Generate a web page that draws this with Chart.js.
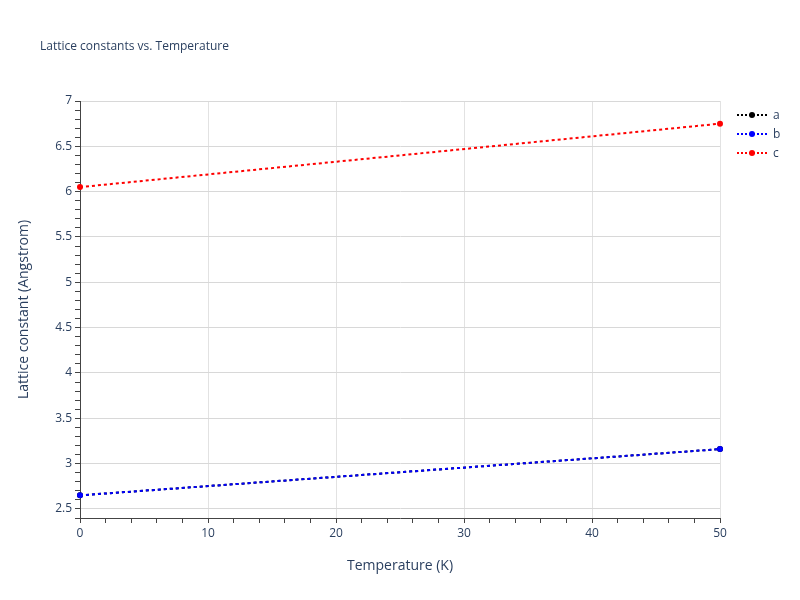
<!DOCTYPE html>
<html>
<head>
<meta charset="utf-8">
<script src="https://cdn.jsdelivr.net/npm/chart.js@4"></script>
<style>
  body { margin: 0; background: #fff; font-family: "Open Sans", sans-serif; }
  #wrap { position: relative; width: 800px; height: 600px; }
  #title { position: absolute; left: 40px; top: 37px; font-size: 12px; color: #2a3f5f; }
  #legend { position: absolute; left: 737px; top: 105px; font-size: 12px; color: #2a3f5f; }
  .item { height: 19px; display: flex; align-items: center; }
  .sw { width: 30px; height: 10px; margin-right: 6px; position: relative; }
  .sw .ln { position: absolute; left: 0; right: 0; top: 4px; border-top: 2px dotted; }
  .sw .dt { position: absolute; left: 12px; top: 2px; width: 6px; height: 6px; border-radius: 50%; }
</style>
</head>
<body>
<div id="wrap">
  <canvas id="chart" width="800" height="600"></canvas>
  <div id="title">Lattice constants vs. Temperature</div>
  <div id="legend"></div>
</div>
<script>
// Data
const temperatures = [0, 50];
const seriesNames = ['a', 'b', 'c'];
const seriesColors = ['#000000', '#0000ff', '#ff0000'];
const aValues = [2.65, 3.16];
const bValues = [2.65, 3.16];
const cValues = [6.05, 6.75];
const seriesValues = [aValues, bValues, cValues];

const legend = document.getElementById('legend');
seriesNames.forEach((name, i) => {
    legend.innerHTML += `<div class="item"><div class="sw"><div class="ln" style="border-color:${seriesColors[i]}"></div><div class="dt" style="background:${seriesColors[i]}"></div></div>${name}</div>`;
});

// later series drawn on top, like plotly
const datasets = seriesNames.map((name, i) => ({
    label: name,
    data: temperatures.map((t, j) => ({ x: t, y: seriesValues[i][j] })),
    borderColor: seriesColors[i],
    backgroundColor: seriesColors[i],
    borderWidth: 2,
    borderDash: [3, 3],
    pointRadius: 3,
    pointHoverRadius: 3,
    pointBorderWidth: 0,
    order: seriesNames.length - i,
    clip: false
}));

new Chart(document.getElementById('chart'), {
    type: 'line',
    data: { datasets: datasets },
    options: {
        responsive: false,
        animation: false,
        layout: { padding: { top: 101, right: 80, left: 12, bottom: 26 } },
        plugins: { legend: { display: false }, tooltip: { enabled: false } },
        scales: {
            x: {
                type: 'linear',
                min: 0, max: 50,
                afterFit: s => { s.height = 56; },
                ticks: {
                    stepSize: 2, autoSkip: false, maxRotation: 0,
                    color: '#2a3f5f', font: { size: 12, family: 'Open Sans' },
                    callback: v => (Math.round(v) % 10 === 0 ? v : '')
                },
                grid: {
                    color: c => (c.tick && Math.round(c.tick.value) % 10 === 0 && c.tick.value > 0 ? '#e2e2e2' : 'transparent'),
                    tickColor: '#444', tickLength: 5, drawOnChartArea: true
                },
                border: { color: '#444', width: 1 },
                title: { display: true, text: 'Temperature (K)', color: '#2a3f5f', font: { size: 14, family: 'Open Sans' }, padding: 0 }
            },
            y: {
                min: 2.4, max: 7,
                afterFit: s => { s.width = 68; },
                ticks: {
                    stepSize: 0.1, autoSkip: false,
                    color: '#2a3f5f', font: { size: 12, family: 'Open Sans' },
                    callback: v => (Math.round(v * 10) % 5 === 0 ? String(Math.round(v * 10) / 10) : '')
                },
                grid: {
                    color: c => (c.tick && Math.round(c.tick.value * 10) % 5 === 0 ? '#d8d8d8' : 'transparent'),
                    tickColor: '#444', tickLength: 5
                },
                border: { color: '#444', width: 1 },
                title: { display: true, text: 'Lattice constant (Angstrom)', color: '#2a3f5f', font: { size: 14, family: 'Open Sans' } }
            }
        }
    }
});
</script>
</body>
</html>
